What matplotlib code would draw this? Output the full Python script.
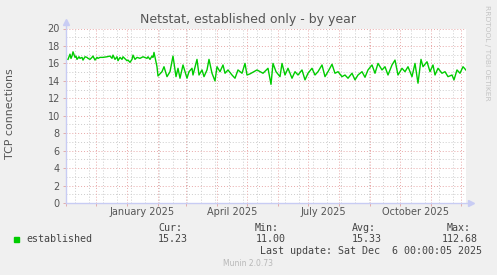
import datetime as dt
import matplotlib
matplotlib.use('Agg')
import matplotlib.pyplot as plt
import matplotlib.dates as mdates
from matplotlib.patches import Rectangle

W, H = 497, 275

start = dt.datetime(2024, 11, 1)
end = dt.datetime(2025, 12, 6)

# days since start
day_offsets = [2, 3, 4, 5, 6, 7, 9, 10, 11, 13, 14, 16, 17, 19, 21, 22, 24, 26, 27, 29,
               31, 32, 34, 37, 41, 44, 46, 47, 49, 51, 52, 54, 56, 57, 61, 62, 64, 66, 67, 69,
               71, 74, 77, 81, 82, 84, 86, 87, 88, 91, 92, 96, 98, 101, 104, 107, 110, 112, 114,
               117, 119, 121, 123, 126, 127, 131, 133, 136, 138, 141, 143, 146, 149, 151, 154,
               157, 159, 162, 166, 169, 172, 176, 179, 181, 184, 191, 197, 202, 205, 207, 210,
               214, 216, 219, 222, 226, 229, 232, 236, 239, 242, 246, 249, 252, 256, 259, 262,
               266, 269, 272, 276, 279, 282, 286, 289, 292, 296, 299, 302, 306, 309, 312, 316,
               319, 322, 326, 329, 332, 336, 339, 342, 346, 349, 352, 355, 357, 361, 364, 367,
               369, 372, 376, 379, 382, 386, 388, 391, 394, 397, 400]
connections = [16.46, 16.76, 17.06, 16.57, 16.84, 17.33, 16.69, 16.84, 16.46, 16.76, 16.58,
               16.69, 16.38, 16.76, 16.69, 16.58, 16.46, 16.69, 16.84, 16.38, 16.69, 16.58,
               16.69, 16.69, 16.76, 16.84, 16.58, 16.95, 16.46, 16.76, 16.31, 16.69, 16.46,
               16.76, 16.31, 16.38, 16.12, 16.46, 16.95, 16.46, 16.69, 16.58, 16.76, 16.58,
               16.76, 16.46, 16.84, 16.69, 17.26, 15.62, 14.56, 15.05, 15.62, 14.48, 15.05,
               16.84, 14.48, 15.44, 14.30, 15.82, 15.05, 14.30, 15.05, 15.44, 14.67, 16.46,
               14.67, 15.25, 14.48, 15.25, 16.46, 14.87, 13.99, 15.62, 15.05, 15.82, 14.87,
               15.25, 14.67, 14.30, 15.25, 14.87, 16.00, 14.67, 14.80, 15.25, 14.87, 15.44,
               13.60, 16.00, 15.05, 14.48, 16.00, 14.67, 15.44, 14.30, 15.05, 14.67, 15.25,
               14.11, 14.87, 15.44, 14.67, 15.05, 15.82, 14.48, 15.05, 15.90, 14.87, 15.05,
               14.48, 14.67, 14.30, 14.87, 14.11, 14.67, 15.05, 14.41, 15.25, 15.82, 14.87,
               16.00, 15.25, 15.62, 14.67, 15.82, 16.38, 14.67, 15.44, 15.05, 15.62, 14.48,
               16.00, 13.73, 16.46, 15.62, 16.19, 15.05, 15.82, 14.67, 15.44, 14.87, 15.05,
               14.48, 14.67, 14.11, 15.25, 14.87, 15.62, 15.23]

month_labels = ['January 2025', 'April 2025', 'July 2025', 'October 2025']
label_dates = [dt.datetime(2025, 1, 16), dt.datetime(2025, 4, 16),
               dt.datetime(2025, 7, 16), dt.datetime(2025, 10, 16)]
series_name = 'established'
stats = {'Cur:': '15.23', 'Min:': '11.00', 'Avg:': '15.33', 'Max:': '112.68'}
last_update = 'Last update: Sat Dec  6 00:00:05 2025'

times = [start + dt.timedelta(days=d) for d in day_offsets]
month_starts = [dt.datetime(2024 + (10 + i) // 12, (10 + i) % 12 + 1, 1) for i in range(14)]
minor_days = [start + dt.timedelta(days=9 + 14 * k) for k in range(29)]

TXT = '#555555'
fig = plt.figure(figsize=(W / 100, H / 100), dpi=100, facecolor='#f0f0f0')
ax = fig.add_axes([66 / W, 1 - 203 / H, 400 / W, 174.5 / H])
ax.set_facecolor('white')
ax.set_xlim(start, end)
ax.set_ylim(0, 20)

# grid (drawn by hand, rrdtool style)
for t in minor_days:
    ax.axvline(t, color='#cccccc', lw=0.7, ls=(0, (1, 2)), zorder=1)
for v in range(1, 20, 2):
    ax.axhline(v, color='#cccccc', lw=0.7, ls=(0, (1, 2)), zorder=1)
for t in month_starts:
    ax.axvline(t, color='#e8a8a8', lw=0.7, ls=(0, (1, 2)), zorder=2)
for v in range(0, 21, 2):
    ax.axhline(v, color='#e8a8a8', lw=0.7, ls=(0, (1, 2)), zorder=2)

ax.plot(times, connections, color='#00cc00', lw=1.0, zorder=3)

for s in ax.spines.values():
    s.set_visible(False)
axc = '#c8ccf4'
ax.plot([0, 0], [0, 1.03], transform=ax.transAxes, color=axc, lw=1, clip_on=False)
ax.plot([0, 1.01], [0, 0], transform=ax.transAxes, color=axc, lw=1, clip_on=False)
ax.plot([0], [1.035], transform=ax.transAxes, marker='^', ms=4, color=axc, clip_on=False)
ax.plot([1.012], [0], transform=ax.transAxes, marker='>', ms=4, color=axc, clip_on=False)

ax.set_yticks(range(0, 21, 2))
ax.tick_params(axis='y', length=2.2, width=0.6, color='#e0a0a0', pad=2.2,
               labelsize=7, labelcolor=TXT)
ax.set_xticks(month_starts)
ax.set_xticklabels([])
ax.tick_params(axis='x', which='major', length=2.2, width=0.6, color='#e0a0a0')
ax.set_xticks(label_dates, minor=True)
ax.set_xticklabels(month_labels, minor=True)
ax.tick_params(axis='x', which='minor', length=0, pad=3, labelsize=7, labelcolor=TXT)


def ftext(x, y, s, **kw):
    fig.text(x / W, 1 - y / H, s, **kw)


ftext(248, 20, 'Netstat, established only - by year', ha='center', va='center',
      fontsize=9, color=TXT)
ftext(10, 114, 'TCP connections', ha='center', va='center', rotation=90,
      fontsize=7.9, color=TXT)
ftext(487, 5, 'RRDTOOL / TOBI OETIKER', ha='center', va='top', rotation=270,
      fontsize=5.4, color='#c4c4c4')

mono = dict(family='DejaVu Sans Mono', fontsize=7.2, color='#444444', va='center')
fig.patches.append(Rectangle((14 / W, 1 - 242.3 / H), 5.3 / W, 5 / H,
                             transform=fig.transFigure, color='#00cc00'))
ftext(26, 239.5, series_name, **mono)
col_x = [(158, 158), (255, 255.5), (351.5, 351.5), (446.5, 441.5)]
for (k, v), (xk, xv) in zip(stats.items(), col_x):
    ftext(xk, 228, k, **mono)
    ftext(xv, 239.5, v, **mono)
ftext(482.5, 251.5, last_update, ha='right', **{k: v for k, v in mono.items()})
ftext(248, 264, 'Munin 2.0.73', ha='center', va='center', fontsize=5.5, color='#b8b8b8')

fig.savefig('out.png', dpi=100, facecolor=fig.get_facecolor())
